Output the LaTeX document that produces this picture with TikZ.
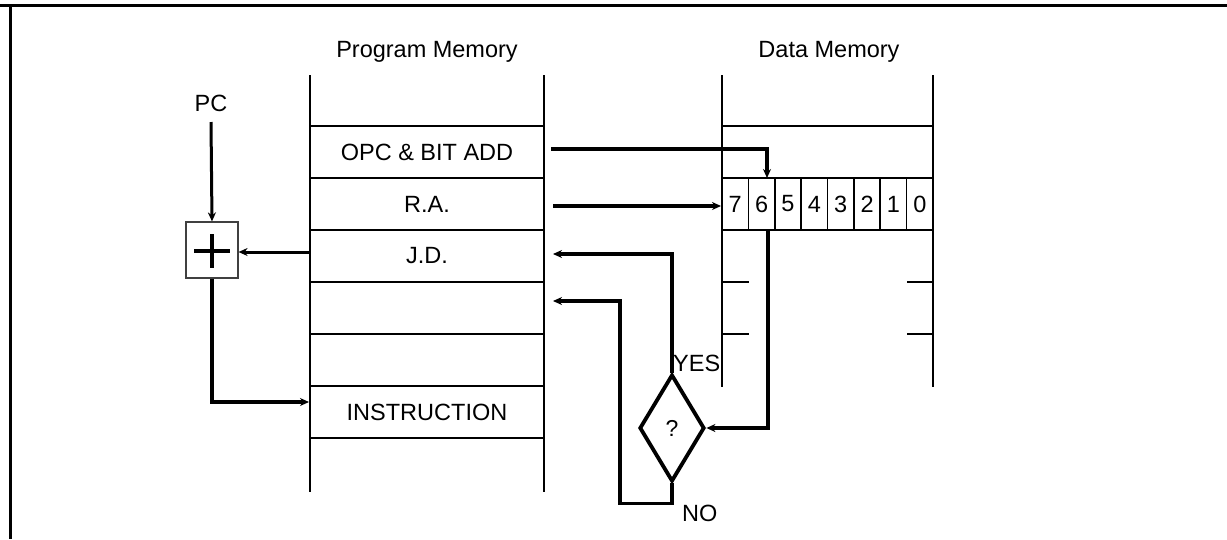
\documentclass[tikz,border=0pt]{standalone}
\usepackage{fontspec}
\setmainfont{Liberation Sans}
\usetikzlibrary{arrows.meta,shapes.geometric}
\begin{document}
\begin{tikzpicture}[x=1pt,y=-1pt,
  frameline/.style={line width=3pt},
  memline/.style={line width=2.3pt},
  rowline/.style={line width=2.8pt},
  lbl/.style={font=\fontsize{23.5}{25}\selectfont, inner sep=0pt},
  bitcell/.style={draw, line width=1.6pt, minimum width=26.375pt, minimum height=52pt, inner sep=0pt, font=\fontsize{23.5}{25}\selectfont},
  conn/.style={line width=3pt, -{Stealth[length=9pt,width=8pt]}},
  thickconn/.style={line width=3.8pt, -{Stealth[length=9pt,width=8pt]}},
]
\useasboundingbox (0,0) rectangle (1227,539);
\fill[white] (0,0) rectangle (1227,539);
% frame
\draw[frameline] (0,5) -- (1227,5);
\draw[frameline] (10,5) -- (10,539);

% headers
\node[lbl] (pmhead) at (427,52) {Program Memory};
\node[lbl] (dmhead) at (829,52) {Data Memory};

% program memory
\draw[memline] (310,75) -- (310,492);
\draw[memline] (544,75) -- (544,492);
\foreach \yy in {126,178,230,282,334,386,438}
  \draw[rowline] (310,\yy) -- (544,\yy);
\node[lbl] (opc) at (427,152) {OPC \& BIT ADD};
\node[lbl] (ra) at (427,204) {R.A.};
\node[lbl] (jd) at (427,256) {J.D.};
\node[lbl] (instr) at (427,412) {INSTRUCTION};

% data memory
\draw[memline] (722,75) -- (722,387);
\draw[memline] (933,75) -- (933,387);
\foreach \yy in {126,178,230}
  \draw[rowline] (722,\yy) -- (933,\yy);
\foreach \yy in {282,334}{
  \draw[rowline] (722,\yy) -- (749,\yy);
  \draw[rowline] (907,\yy) -- (933,\yy);
}
\foreach \b [count=\i from 0] in {7,6,5,4,3,2,1,0}
  \node[bitcell] (b\b) at ({722+26.375*(\i+0.5)},204) {\b};

% PC and adder
\node[lbl] (pc) at (211,103) {PC};
\node[draw=black!75, line width=1.2pt, minimum width=52pt, minimum height=56pt, inner sep=0pt] (add) at (212,250) {};
\draw[line width=3.8pt] (194,251) -- (230,251);
\draw[line width=3.8pt] (212,234) -- (212,268);

% decision
\node[draw, shape=diamond, line width=3.8pt, minimum width=65pt, minimum height=107pt, inner sep=0pt] (dec) at (672,428) {};
\node[font=\fontsize{23}{25}\selectfont, inner sep=0pt] (q) at (dec.center) {?};
\node[lbl, anchor=west] (yes) at (673,363) {YES};
\node[lbl, anchor=west] (no) at (682,513) {NO};

% coordinates
\coordinate (pcs) at (211,122);
\coordinate (opcs) at (551,149);
\coordinate (opct) at (767,178);
\coordinate (ras) at (553,206);
\coordinate (rat) at (721,206);
\coordinate (jds) at (310,252);
\coordinate (inst) at (309,402);
\coordinate (bitd) at (768,230);
\coordinate (yest) at (553,254);
\coordinate (not) at (553,301);

% connectors
\draw[conn] (pcs) -- (add.north);
\draw[conn] (jds) -- (add.east |- jds);
\draw[thickconn] (add.south) |- (inst);
\draw[conn, line width=3.3pt] (opcs) -| (opct);
\draw[thickconn] (ras) -- (rat);
\draw[thickconn] (bitd) |- (dec.east);
\draw[thickconn] (dec.north) |- (yest);
\draw[thickconn] (dec.south) -- ++(0,20) -| (620,301) -- (not);
\end{tikzpicture}
\end{document}
